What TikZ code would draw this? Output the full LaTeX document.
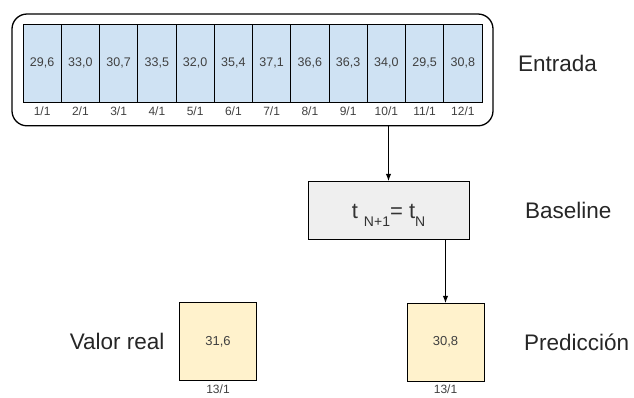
\documentclass[tikz,border=0pt]{standalone}
\usepackage{fontspec}
\setmainfont{Liberation Sans}
\usetikzlibrary{arrows.meta,positioning,fit}
\definecolor{cellblue}{HTML}{CFE2F3}
\definecolor{realyellow}{HTML}{FFF2CC}
\definecolor{basegray}{HTML}{EFEFEF}
\newcommand{\lowidx}[1]{\raisebox{-8pt}{\fontsize{14}{16}\selectfont #1}}

\begin{document}
\begin{tikzpicture}[
      x=1pt, y=1pt,
      cell/.style={rectangle, draw, fill=cellblue, minimum width=38.25pt, minimum height=78pt, inner sep=0pt, outer sep=0pt, line width=0.9pt, text=black!75, font=\fontsize{12.5}{14}\selectfont},
      date/.style={inner sep=0pt, outer sep=0pt, text=black!75, font=\fontsize{12}{14}\selectfont},
      value/.style={rectangle, draw, fill=realyellow, minimum width=77pt, minimum height=78pt, inner sep=0pt, outer sep=0pt, line width=0.9pt, text=black!75, font=\fontsize{13}{15}\selectfont},
      formula/.style={rectangle, draw, fill=basegray, minimum width=161pt, minimum height=58pt, inner sep=0pt, outer sep=0pt, line width=0.9pt, text=black!80, font=\fontsize{22}{26}\selectfont},
      tag/.style={inner sep=0pt, outer sep=0pt, text=black!85, font=\fontsize{22.5}{26}\selectfont},
      link/.style={draw, -Latex, line width=0.9pt},
    ]
    \useasboundingbox (0,0) rectangle (634,-397);
    % serie de entrada
    \node[cell] (c1) at (42.125,-63) {29,6};
    \node[cell, right=0pt of c1] (c2) {33,0};
    \node[cell, right=0pt of c2] (c3) {30,7};
    \node[cell, right=0pt of c3] (c4) {33,5};
    \node[cell, right=0pt of c4] (c5) {32,0};
    \node[cell, right=0pt of c5] (c6) {35,4};
    \node[cell, right=0pt of c6] (c7) {37,1};
    \node[cell, right=0pt of c7] (c8) {36,6};
    \node[cell, right=0pt of c8] (c9) {36,3};
    \node[cell, right=0pt of c9] (c10) {34,0};
    \node[cell, right=0pt of c10] (c11) {29,5};
    \node[cell, right=0pt of c11] (c12) {30,8};
    \node[date, below=5pt of c1] (d1) {1/1};
    \node[date, below=5pt of c2] (d2) {2/1};
    \node[date, below=5pt of c3] (d3) {3/1};
    \node[date, below=5pt of c4] (d4) {4/1};
    \node[date, below=5pt of c5] (d5) {5/1};
    \node[date, below=5pt of c6] (d6) {6/1};
    \node[date, below=5pt of c7] (d7) {7/1};
    \node[date, below=5pt of c8] (d8) {8/1};
    \node[date, below=5pt of c9] (d9) {9/1};
    \node[date, below=5pt of c10] (d10) {10/1};
    \node[date, below=5pt of c11] (d11) {11/1};
    \node[date, below=5pt of c12] (d12) {12/1};
    \node[fit=(c1)(c12)(d12), draw, rounded corners=15pt, line width=1.3pt, inner xsep=11pt, inner ysep=10pt] (input) {};
    \node[tag, right=36pt of c12] (entradalbl) {Entrada};

    % modelo
    \node[formula] (base) at (388.5,-210) {\raisebox{-8pt}[0pt][0pt]{t \lowidx{N+1}= t\lowidx{N}}};
    \node[tag, right=56pt of base] (baselbl) {Baseline};

    % salida
    \node[value] (real) at (218,-341.5) {31,6};
    \node[value] (pred) at (445.5,-342) {30,8};
    \node[date, below=4pt of real] (dreal) {13/1};
    \node[date, below=4pt of pred] (dpred) {13/1};
    \node[tag, left=15pt of real] (reallbl) {Valor real};
    \node[tag, right=40pt of pred] (predlbl) {Predicción};

    \draw[link] (input.south -| base.north) -- (base.north);
    \draw[link] (base.south -| pred.north) -- (pred.north);
\end{tikzpicture}
\end{document}
